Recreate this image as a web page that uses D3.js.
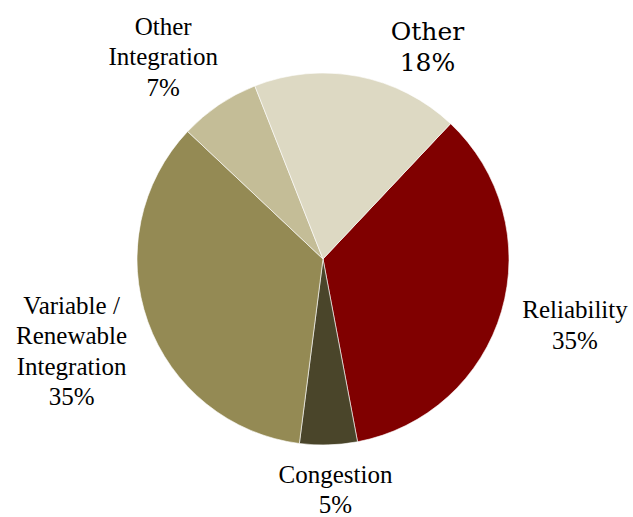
<!DOCTYPE html>
<html>
<head>
<meta charset="utf-8">
<script src="https://cdn.jsdelivr.net/npm/d3@7"></script>
</head>
<body>
<div class="main"></div>
<script>
// chart data
const categories = ["Reliability", "Congestion", "Variable / Renewable Integration", "Other Integration", "Other"];
const shares = [35, 5, 35, 7, 18];
const labelLines = [
  ["Reliability", "35%"],
  ["Congestion", "5%"],
  ["Variable /", "Renewable", "Integration", "35%"],
  ["Other", "Integration", "7%"],
  ["Other", "18%"]
];
const colors = ["#800000", "#4a452a", "#948a54", "#c4bd97", "#ddd9c3"];

let width = 633,
    height = 517;

d3.select("body").style("margin", "0px");

let svg = d3.select("div.main").append("svg")
  .attr("width", width)
  .attr("height", height);

let cx = 323, cy = 259, radius = 186;
let startDeg = 43.3;

let pie = d3.pie()
  .sort(null)
  .value(function(d) { return d; })
  .startAngle(startDeg * Math.PI / 180)
  .endAngle((startDeg + 360) * Math.PI / 180);

let arcs = pie(shares);
let arc = d3.arc().innerRadius(0).outerRadius(radius);

let g = svg.append("g")
  .attr("transform", "translate(" + cx + "," + cy + ")");

g.selectAll("path.slice")
  .data(arcs)
  .enter().append("path")
    .attr("class", "slice")
    .attr("d", arc)
    .attr("fill", function(d, i) { return colors[i]; })
    .attr("stroke", "#ffffff")
    .attr("stroke-width", 0.6);

// labels outside the pie, off the slice centroid then nudged
let labelArc = d3.arc().innerRadius(radius * 1.35).outerRadius(radius * 1.35);
let nudge = [[11, -4], [5, -20], [-15, 8], [-19, 6], [57, 35]];
let lineH = 30.5;
// trying a different family string per label to see which one takes
let fams = ["Liberation Serif", "Times New Roman", "Tinos", "serif", "DejaVu Serif"];

arcs.forEach(function(d, i) {
  let c = labelArc.centroid(d);
  let x = cx + c[0] + nudge[i][0];
  let y = cy + c[1] + nudge[i][1];
  let lines = labelLines[i];
  lines.forEach(function(s, j) {
    let t = svg.append("text")
      .attr("y", y - (lines.length - 1) * lineH / 2 + 8 + j * lineH)
      .attr("font-size", "25px")
      .attr("font-family", fams[i])
      .style("font-family", fams[i])
      .text(s);
    // centre by measuring instead of text-anchor
    let w = t.node().getComputedTextLength();
    t.attr("x", x - w / 2);
  });
});
</script>
</body>
</html>
